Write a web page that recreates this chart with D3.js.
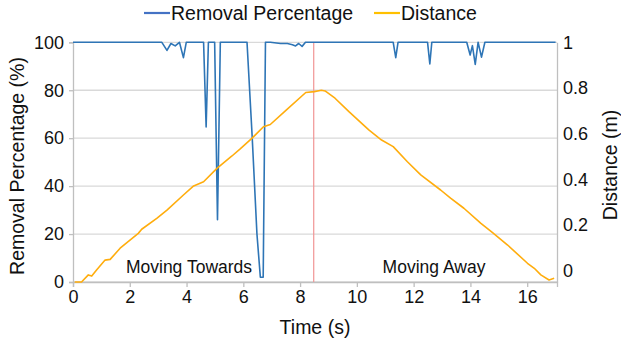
<!DOCTYPE html>
<html>
<head>
<meta charset="utf-8">
<script src="https://cdn.jsdelivr.net/npm/d3@7"></script>
<style>
  body { margin: 0; background: #fff; }
  text { font-family: "Liberation Sans", Arial, sans-serif; fill: #111; }
</style>
</head>
<body>
<div class="chart"></div>
<script>
(function () {
  // removal percentage (%) vs time (s)
  var removalTime = [0, 3.13, 3.31, 3.45, 3.60, 3.75, 3.89, 3.99, 4.60, 4.69, 4.77, 4.99, 5.09, 5.19,
    6.13, 6.31, 6.48, 6.60, 6.70, 6.78, 6.95, 7.31, 7.55, 7.73, 7.84, 7.95, 8.07, 8.19,
    11.28, 11.37, 11.45, 12.49, 12.57, 12.64, 13.87, 13.99, 14.07, 14.17, 14.27, 14.39, 14.51, 17.0];
  var removalPct = [100, 100, 96.6, 99.5, 98.5, 100, 93.6, 100, 100, 64.7, 100, 100, 26, 100,
    100, 61, 20, 2, 2, 100, 100, 99.5, 99.5, 99, 98.5, 99.5, 98.3, 100,
    100, 93.6, 100, 100, 91, 100, 100, 94.7, 98.6, 90.8, 100, 93.8, 100, 100];

  // distance (m) vs time (s)
  var distTime = [0.06, 0.30, 0.54, 0.66, 0.83, 1.13, 1.31, 1.66, 2.30, 2.42, 2.95, 3.31, 3.89, 4.25,
    4.60, 5.07, 5.60, 5.89, 6.30, 6.71, 6.95, 7.51, 8.20, 8.50, 8.75, 8.88, 9.23, 9.72, 10.42,
    10.87, 11.28, 11.78, 12.25, 12.95, 13.30, 13.77, 14.37, 14.78, 15.31, 16.01, 16.25, 16.48, 16.77, 16.95];
  var distance = [-0.05, -0.05, -0.019, -0.024, 0.003, 0.046, 0.049, 0.098, 0.163, 0.181, 0.229, 0.265, 0.331, 0.371,
    0.389, 0.448, 0.502, 0.533, 0.579, 0.630, 0.640, 0.703, 0.780, 0.784, 0.790, 0.787, 0.755, 0.696, 0.616,
    0.572, 0.543, 0.477, 0.419, 0.353, 0.317, 0.273, 0.207, 0.166, 0.112, 0.032, 0.010, -0.019, -0.041, -0.034];

  var xTicks = [0, 2, 4, 6, 8, 10, 12, 14, 16];
  var yTicks = [0, 20, 40, 60, 80, 100];
  var y2Ticks = [0, 0.2, 0.4, 0.6, 0.8, 1];
  var splitTime = 8.48;

  var blue = '#2e75b6';
  var orange = '#ffad0d';

  var svg = d3.select('.chart').append('svg')
    .attr('width', 621)
    .attr('height', 347);

  var x = d3.scaleLinear().domain([0, 17.05]).range([73, 557]);
  var y = d3.scaleLinear().domain([0, 100]).range([282, 42.3]);
  var y2 = d3.scaleLinear().domain([-0.05, 1]).range([282, 42.3]);

  // gridlines
  svg.append('g')
    .selectAll('line')
    .data(yTicks)
    .enter().append('line')
      .attr('x1', x(0))
      .attr('x2', x(17.05))
      .attr('y1', function (d) { return y(d); })
      .attr('y2', function (d) { return y(d); })
      .attr('stroke', '#d9d9d9')
      .attr('stroke-width', 1.3);

  // axes
  var axisLeft = d3.axisLeft(y).tickValues(yTicks).tickSize(4).tickPadding(5);
  var axisBottom = d3.axisBottom(x).tickValues(xTicks).tickSize(5).tickPadding(3);
  var axisRight = d3.axisRight(y2).tickValues(y2Ticks).tickSize(0).tickPadding(6)
    .tickFormat(function (d) { return d === 0 || d === 1 ? d3.format('d')(d) : d3.format('.1f')(d); });

  svg.append('g')
      .attr('class', 'axis')
      .attr('transform', 'translate(' + x(0) + ',0)')
      .call(axisLeft);
  svg.append('g')
      .attr('class', 'axis')
      .attr('transform', 'translate(0,' + y(0) + ')')
      .call(axisBottom);
  svg.append('g')
      .attr('class', 'axis')
      .attr('transform', 'translate(' + x(17.05) + ',0)')
      .call(axisRight);

  svg.selectAll('.axis path, .axis line').attr('stroke', '#bfbfbf').attr('stroke-width', 1.3);
  svg.selectAll('.axis text').attr('font-size', '18px').attr('fill', '#111');
  svg.selectAll('.axis').attr('font-family', null);

  // separator between towards / away
  svg.append('line')
    .attr('x1', x(splitTime))
    .attr('x2', x(splitTime))
    .attr('y1', y(100))
    .attr('y2', y(0))
    .attr('stroke', '#f19595')
    .attr('stroke-width', 1.2);

  // series
  var blueLine = d3.line()
    .x(function (d, i) { return x(removalTime[i]); })
    .y(function (d) { return y(d); });
  var orangeLine = d3.line()
    .x(function (d, i) { return x(distTime[i]); })
    .y(function (d) { return y2(d); });

  svg.append('path')
    .attr('d', blueLine(removalPct))
    .attr('fill', 'none')
    .attr('stroke', blue)
    .attr('stroke-width', 1.6)
    .attr('stroke-linejoin', 'round');
  svg.append('path')
    .attr('d', orangeLine(distance))
    .attr('fill', 'none')
    .attr('stroke', orange)
    .attr('stroke-width', 1.6)
    .attr('stroke-linejoin', 'round');

  // annotations
  svg.append('text')
    .attr('x', 189)
    .attr('y', 273)
    .attr('font-size', '17.5px')
    .style('text-anchor', 'middle')
    .text('Moving Towards');
  svg.append('text')
    .attr('x', 434)
    .attr('y', 273)
    .attr('font-size', '17.5px')
    .style('text-anchor', 'middle')
    .text('Moving Away');

  // axis titles
  svg.append('text')
    .attr('x', (x(0) + x(17.05)) / 2)
    .attr('y', 334)
    .attr('font-size', '19.5px')
    .style('text-anchor', 'middle')
    .text('Time (s)');
  svg.append('text')
    .attr('transform', 'rotate(-90)')
    .attr('x', -166)
    .attr('y', 24)
    .attr('font-size', '19.5px')
    .style('text-anchor', 'middle')
    .text('Removal Percentage (%)');
  svg.append('text')
    .attr('transform', 'rotate(-90)')
    .attr('x', -165)
    .attr('y', 617)
    .attr('font-size', '19.5px')
    .style('text-anchor', 'middle')
    .text('Distance (m)');

  // legend
  var legend = [
    {name: 'Removal Percentage', color: '#4472c4', x: 144},
    {name: 'Distance', color: '#ffc000', x: 374}
  ];
  var lg = svg.append('g').selectAll('g')
    .data(legend)
    .enter().append('g')
    .attr('transform', function (d) { return 'translate(' + d.x + ',13)'; });
  lg.append('line')
    .attr('x1', 0)
    .attr('x2', 26)
    .attr('stroke', function (d) { return d.color; })
    .attr('stroke-width', 2.2);
  lg.append('text')
    .attr('x', 27)
    .attr('y', 7)
    .attr('font-size', '19.5px')
    .text(function (d) { return d.name; });
})();
</script>
</body>
</html>
